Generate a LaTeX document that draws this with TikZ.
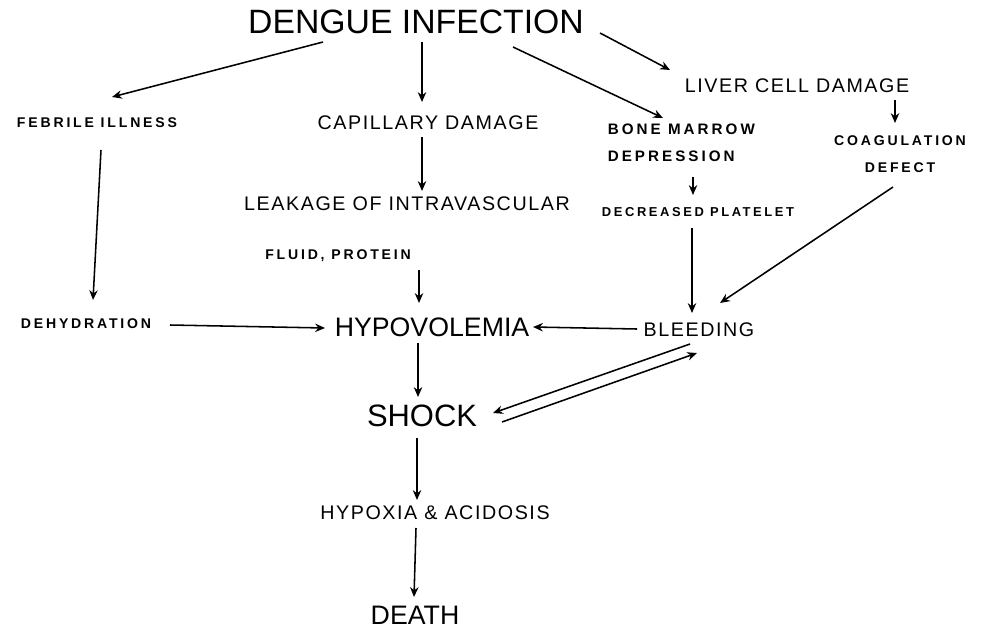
\documentclass[tikz,border=0pt]{standalone}
\usepackage{fontspec}
\usepackage{tikz}
\usetikzlibrary{calc,arrows.meta}
\newfontfamily\bigfont{Liberation Sans}
\newfontfamily\midfont[LetterSpace=8]{Liberation Sans}
\newfontfamily\smallfont[LetterSpace=20]{Liberation Sans}

\begin{document}
\begin{tikzpicture}[x=0.025cm, y=-0.025cm, line width=1.1pt,
    >={Stealth[length=7pt,width=6pt]},
    bigtxt/.style={inner sep=0pt, font=\bigfont\fontsize{24}{28}\selectfont},
    midtxt/.style={inner sep=0pt, font=\midfont\fontsize{14}{17}\selectfont},
    smalltxt/.style={inner sep=0pt, font=\smallfont\bfseries\fontsize{10}{19.5}\selectfont}]
        \useasboundingbox (0,0) rectangle (983,631);

        % Top level
        \node[bigtxt] (dengue) at (416,22) {DENGUE INFECTION};
        \node[smalltxt] (febrile) at (97,123) {FEBRILE ILLNESS};
        \node[midtxt] (capillary) at (428,123) {CAPILLARY DAMAGE};
        \node[midtxt] (liver) at (797,86) {LIVER CELL DAMAGE};
        \node[smalltxt, font=\smallfont\bfseries\fontsize{10.8}{19.5}\selectfont, align=left, anchor=west] (bone) at (607,143) {BONE MARROW\\DEPRESSION};
        \node[smalltxt, align=center] (coag) at (900,154) {COAGULATION\\DEFECT};

        % Middle level
        \node[midtxt] (leakage) at (407,204) {LEAKAGE OF INTRAVASCULAR};
        \node[smalltxt, font=\smallfont\bfseries\fontsize{9.2}{11}\selectfont] (decreased) at (698,212) {DECREASED PLATELET};
        \node[smalltxt] (fluid) at (338,256) {FLUID, PROTEIN};
        \node[smalltxt] (dehydration) at (86,324) {DEHYDRATION};
        \node[bigtxt, font=\bigfont\fontsize{19}{23}\selectfont] (hypovolemia) at (432,327) {HYPOVOLEMIA};
        \node[midtxt] (bleeding) at (699,330) {BLEEDING};

        % Bottom level
        \node[bigtxt, font=\bigfont\fontsize{22}{26}\selectfont] (shock) at (422,416) {SHOCK};
        \node[midtxt] (hypoxia) at (435,513) {HYPOXIA \& ACIDOSIS};
        \node[bigtxt, font=\bigfont\fontsize{19}{23}\selectfont] (death) at (415,615) {DEATH};

        % Arrows from the infection
        \draw[->] ($(dengue)+(-93,20)$) -- ($(febrile)+(15,-26)$);
        \draw[->] ($(dengue)+(6,20)$) -- ($(capillary)+(-6,-21)$);
        \draw[->] ($(dengue)+(97,25)$) -- ($(bone.west)+(56,-25)$);
        \draw[->] ($(dengue)+(184,11)$) -- ($(liver)+(-127,-16)$);

        % Second row arrows
        \draw[->] ($(liver)+(98,14)$) -- ($(coag)+(-5,-31)$);
        \draw[->] ($(capillary)+(-6,14)$) -- ($(leakage)+(15,-13)$);
        \draw[->] ($(febrile)+(4,27)$) -- ($(dehydration)+(7,-24)$);
        \draw[->] ($(bone.west)+(86,34)$) -- ($(decreased)+(-5,-17)$);
        \draw[->] ($(decreased)+(-6,16)$) -- ($(bleeding)+(-7,-17)$);
        \draw[->] ($(coag)+(-7,33)$) -- ($(bleeding)+(21,-27)$);

        % Into hypovolemia
        \draw[->] ($(fluid)+(81,14)$) -- ($(hypovolemia)+(-13,-24)$);
        \draw[->] ($(dehydration)+(84,1)$) -- ($(hypovolemia)+(-107,1)$);
        \draw[->] ($(bleeding)+(-62,-1)$) -- ($(hypovolemia)+(101,0)$);

        % Shock and after
        \draw[->] ($(hypovolemia)+(-14,16)$) -- ($(shock)+(-4,-19)$);
        \draw[->] ($(bleeding)+(-9,14)$) -- ($(shock)+(71,-3)$);
        \draw[->] ($(shock)+(80,6)$) -- ($(bleeding)+(-2,23)$);
        \draw[->] ($(shock)+(-5,22)$) -- ($(hypoxia)+(-18,-13)$);
        \draw[->] ($(hypoxia)+(-19,15)$) -- ($(death)+(-1,-18)$);
    \end{tikzpicture}
\end{document}
